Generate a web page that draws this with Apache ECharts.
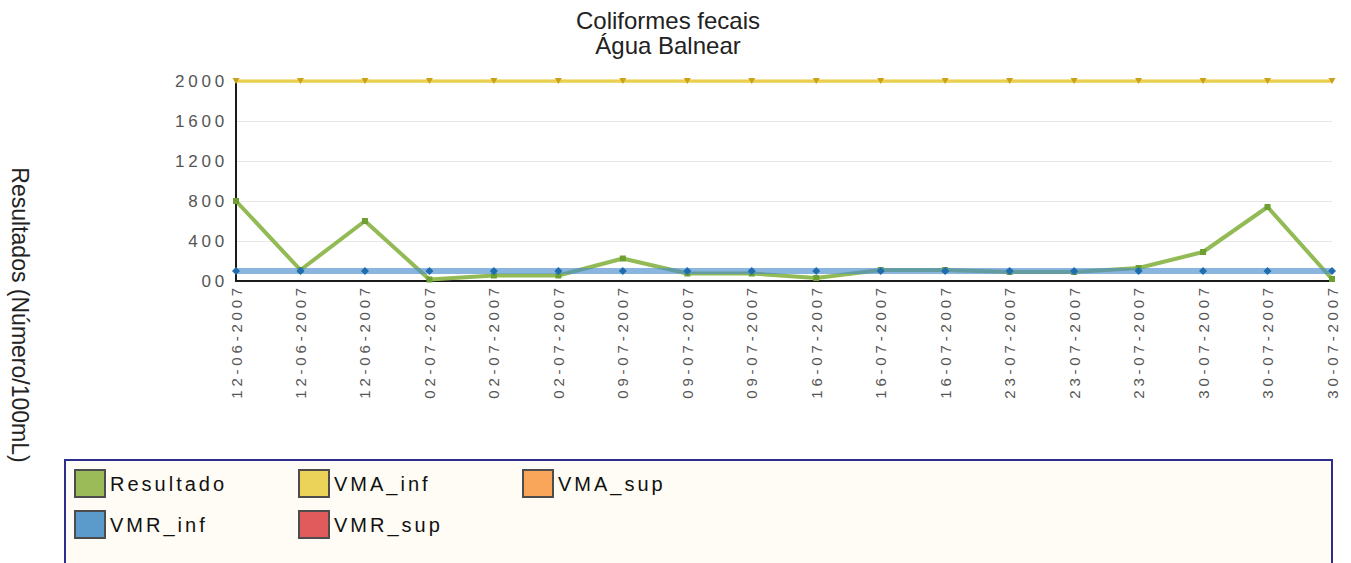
<!DOCTYPE html>
<html>
<head>
<meta charset="utf-8">
<script src="https://cdn.jsdelivr.net/npm/echarts/dist/echarts.min.js"></script>
<style>
  html, body { margin: 0; padding: 0; background: #ffffff; }
  #chart { width: 1351px; height: 563px; }
  #chart text[text-anchor="end"] { letter-spacing: 3.8px; }
  #chart text:not([text-anchor="end"]):not([text-anchor="middle"]) { letter-spacing: 3px; }
</style>
</head>
<body>
<div id="chart"></div>
<script>
const categories = [
  '12-06-2007', '12-06-2007', '12-06-2007',
  '02-07-2007', '02-07-2007', '02-07-2007',
  '09-07-2007', '09-07-2007', '09-07-2007',
  '16-07-2007', '16-07-2007', '16-07-2007',
  '23-07-2007', '23-07-2007', '23-07-2007',
  '30-07-2007', '30-07-2007', '30-07-2007'
];
const resultado = [800, 110, 600, 15, 55, 55, 225, 75, 75, 30, 110, 110, 90, 90, 130, 290, 740, 20];
const vmaInf = [2000, 2000, 2000, 2000, 2000, 2000, 2000, 2000, 2000, 2000, 2000, 2000, 2000, 2000, 2000, 2000, 2000, 2000];
const vmaSup = [null, null, null, null, null, null, null, null, null, null, null, null, null, null, null, null, null, null];
const vmrInf = [100, 100, 100, 100, 100, 100, 100, 100, 100, 100, 100, 100, 100, 100, 100, 100, 100, 100];
const vmrSup = [null, null, null, null, null, null, null, null, null, null, null, null, null, null, null, null, null, null];
const yTickLabels = ['00', '400', '800', '1200', '1600', '2000'];
const seriesNames = ['Resultado', 'VMA_inf', 'VMA_sup', 'VMR_inf', 'VMR_sup'];
const seriesColors = ['#9BBB59', '#EBD35A', '#F9A65A', '#5B9BCB', '#E15A5C'];
const titleLines = ['Coliformes fecais', 'Água Balnear'];
const yAxisName = 'Resultados (Número/100mL)';

const FONT = '"Liberation Sans", Arial, sans-serif';
const chart = echarts.init(document.getElementById('chart'), null, { renderer: 'svg' });

const legendBase = {
  orient: 'horizontal',
  padding: 0,
  itemWidth: 30,
  itemHeight: 27,
  icon: 'rect',
  selectedMode: false,
  textStyle: { fontSize: 20, color: '#111111', fontFamily: FONT },
  itemStyle: { borderColor: '#4d4d4d', borderWidth: 2 }
};
const legendPos = [[74, 469], [298, 469], [522, 469], [74, 510], [298, 510]];

const option = {
  animation: false,
  backgroundColor: '#ffffff',
  title: {
    text: titleLines.join('\n'),
    left: 663,
    top: 3,
    textAlign: 'center',
    textStyle: { fontSize: 24, lineHeight: 25, fontWeight: 'normal', color: '#222222', fontFamily: FONT }
  },
  grid: { left: 236, right: 19, top: 81, bottom: 282, containLabel: false },
  xAxis: {
    type: 'category',
    data: categories,
    boundaryGap: false,
    axisLine: { show: true, lineStyle: { color: '#1a1a1a', width: 2 } },
    axisTick: { show: false },
    axisLabel: { rotate: 90, interval: 0, margin: 3, fontSize: 15, color: '#555555', fontFamily: FONT },
    splitLine: { show: false }
  },
  yAxis: {
    type: 'value',
    min: 0,
    max: 2000,
    interval: 400,
    axisLine: { show: true, lineStyle: { color: '#1a1a1a', width: 2 } },
    axisTick: { show: false },
    axisLabel: {
      margin: 8, fontSize: 17, color: '#555555', fontFamily: FONT,
      formatter: function (v) { return yTickLabels[Math.round(v / 400)]; }
    },
    splitLine: { show: true, lineStyle: { color: '#e6e6e6', width: 1 } }
  },
  legend: legendPos.map(function (p, i) {
    return Object.assign({}, legendBase, {
      data: [{ name: seriesNames[i], itemStyle: { color: seriesColors[i] } }],
      left: p[0], top: p[1]
    });
  }),
  graphic: [
    {
      type: 'rect', z: -10, silent: true,
      shape: { x: 65, y: 460, width: 1267, height: 130 },
      style: { fill: '#FFFCF5', stroke: '#2E2E8C', lineWidth: 2 }
    },
    {
      type: 'text', x: 20, y: 315, rotation: -Math.PI / 2, silent: true,
      style: { text: yAxisName, align: 'center', verticalAlign: 'middle', fontSize: 23, fontFamily: FONT, fill: '#222222' }
    }
  ],
  series: [
    {
      name: seriesNames[0], type: 'line', data: resultado,
      color: seriesColors[0],
      lineStyle: { color: '#92BA55', width: 4 },
      symbol: 'rect', symbolSize: 6,
      itemStyle: { color: '#6E9F32' },
      z: 3
    },
    {
      name: seriesNames[1], type: 'line', data: vmaInf,
      color: seriesColors[1],
      lineStyle: { color: '#EACF4E', width: 3.5 },
      symbol: 'triangle', symbolRotate: 180, symbolSize: [7, 6],
      itemStyle: { color: '#C9A21A' },
      z: 2
    },
    {
      name: seriesNames[2], type: 'line', data: vmaSup,
      color: seriesColors[2],
      lineStyle: { color: seriesColors[2], width: 3 },
      symbol: 'none'
    },
    {
      name: seriesNames[3], type: 'line', data: vmrInf,
      color: seriesColors[3],
      lineStyle: { color: 'rgba(74,142,204,0.65)', width: 6 },
      symbol: 'diamond', symbolSize: 8,
      itemStyle: { color: '#1F6DAF' },
      z: 4
    },
    {
      name: seriesNames[4], type: 'line', data: vmrSup,
      color: seriesColors[4],
      lineStyle: { color: seriesColors[4], width: 3 },
      symbol: 'none'
    }
  ]
};
chart.setOption(option);
</script>
</body>
</html>
